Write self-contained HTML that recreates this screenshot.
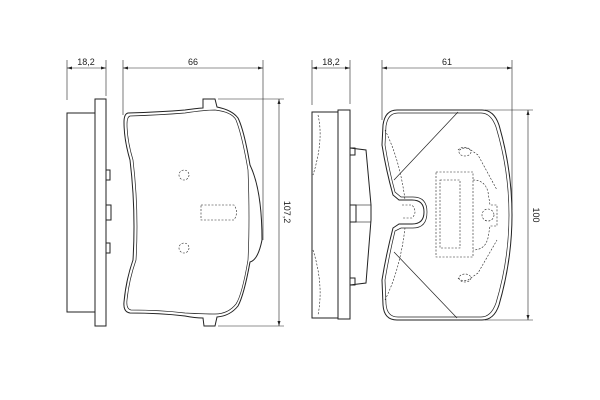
<!DOCTYPE html>
<html><head><style>body{margin:0;background:#fff}svg{display:block}</style></head><body>
<svg width="600" height="400" viewBox="0 0 600 400" xmlns="http://www.w3.org/2000/svg" font-family="Liberation Sans, sans-serif" font-size="9" fill="none" stroke="#222" stroke-width="1">
<defs><marker id="a" viewBox="0 0 10 6" refX="10" refY="3" markerWidth="9" markerHeight="5" orient="auto-start-reverse"><path d="M0,0L10,3L0,6z" fill="#222" stroke="none"/></marker></defs>
<!-- left side view -->
<rect x="67" y="113" width="28" height="199"/>
<rect x="95" y="99" width="11" height="227"/>
<rect x="106" y="170" width="4" height="10"/><rect x="106" y="205" width="5" height="15"/><rect x="106" y="243" width="4" height="10"/>
<line x1="67" y1="60" x2="67" y2="100" stroke-width="0.6"/><line x1="106" y1="60" x2="106" y2="96" stroke-width="0.6"/>
<line x1="67" y1="68" x2="106" y2="68" stroke-width="0.6" marker-start="url(#a)" marker-end="url(#a)"/>
<text x="86" y="65" text-anchor="middle" fill="#222" stroke="none">18,2</text>
<!-- left pad -->
<path d="M128,113 Q160,112 185,110 Q200,108 203,108 L203,99 L215,99 L217,107 Q232,110 238,118 Q244,130 250,165 Q262,190 262,240 Q258,260 250,262 Q244,295 238,306 Q230,316 217,317 L215,326 L204,326 L203,318 Q195,318 185,316 Q160,313 130,313 Q123,312 124,302 Q126,280 133,260 Q136,210 130,160 Q124,140 124,122 Q124,114 128,113 Z"/>
<path d="M130,116 Q160,115 185,113 Q205,110 215,110 Q232,112 236,120 Q242,135 248,170 Q250,220 248,260 Q242,295 236,304 Q228,314 215,314 Q205,314 185,313 Q160,310 131,310 Q126,309 127,300 Q129,280 136,260 Q139,210 133,160 Q127,140 127,124 Q127,117 130,116 Z" stroke-width="0.7"/>
<circle cx="184" cy="175" r="5" stroke-dasharray="2,1.5" stroke-width="0.6"/>
<circle cx="184" cy="248" r="5" stroke-dasharray="2,1.5" stroke-width="0.6"/>
<path d="M201,205 L234,205 Q239,212 234,220 L201,220 Z" stroke-dasharray="2,1.5" stroke-width="0.6"/>
<line x1="123" y1="60" x2="123" y2="115" stroke-width="0.6"/><line x1="263" y1="60" x2="263" y2="240" stroke-width="0.6"/>
<line x1="123" y1="68" x2="263" y2="68" stroke-width="0.6" marker-start="url(#a)" marker-end="url(#a)"/>
<text x="193" y="65" text-anchor="middle" fill="#222" stroke="none">66</text>
<line x1="218" y1="99" x2="284" y2="99" stroke-width="0.6"/><line x1="218" y1="326" x2="284" y2="326" stroke-width="0.6"/>
<line x1="279" y1="99" x2="279" y2="326" stroke-width="0.6" marker-start="url(#a)" marker-end="url(#a)"/>
<text transform="translate(284,212) rotate(90)" text-anchor="middle" fill="#222" stroke="none">107,2</text>
<!-- right side view -->
<rect x="312" y="112" width="26" height="206"/>
<rect x="338" y="110" width="12" height="209"/>
<path d="M350,148 L366,150 L371,205 L371,220 L366,283 L350,285" />
<rect x="350" y="148" width="5" height="7"/><rect x="350" y="205" width="6" height="17"/><rect x="350" y="278" width="5" height="7"/>
<path d="M318,115 Q324,140 313,175 M313,250 Q324,285 318,315" stroke-dasharray="2,1.5" stroke-width="0.6"/>
<line x1="355" y1="205" x2="371" y2="205" stroke-width="0.6"/><line x1="355" y1="222" x2="371" y2="222" stroke-width="0.6"/>
<line x1="312" y1="60" x2="312" y2="105" stroke-width="0.6"/><line x1="350" y1="60" x2="350" y2="104" stroke-width="0.6"/>
<line x1="312" y1="68" x2="350" y2="68" stroke-width="0.6" marker-start="url(#a)" marker-end="url(#a)"/>
<text x="331" y="65" text-anchor="middle" fill="#222" stroke="none">18,2</text>
<!-- right pad -->
<path d="M397,110 L482,110 Q494,110 499,125 Q512,170 512,215 Q512,260 499,305 Q494,320 482,320 L397,320 Q384,320 383,305 L382,280 Q386,255 393,228 L399,224 L412,224 Q424,224 424,212 Q424,200 412,200 L399,200 L393,195 Q386,170 382,145 L383,125 Q385,110 397,110 Z"/>
<path d="M398,113 L481,113 Q491,113 496,127 Q509,170 509,215 Q509,260 496,303 Q491,317 481,317 L398,317 Q387,317 386,304 L385,280 Q389,256 395,231 L401,228 L413,228 Q427,228 427,212 Q427,197 413,197 L401,197 L395,192 Q389,170 385,145 L386,126 Q388,113 398,113 Z" stroke-width="0.7"/>
<line x1="458" y1="112" x2="394" y2="180" stroke-width="0.7"/><line x1="394" y1="252" x2="457" y2="318" stroke-width="0.7"/>
<g stroke-dasharray="2,1.5" stroke-width="0.6">
<path d="M385,130 Q400,160 405,200 M385,300 Q400,270 405,228"/>
<path d="M402,205 L412,205 Q418,212 412,218 L402,218"/>
<rect x="436" y="172" width="37" height="85"/><rect x="440" y="180" width="20" height="68"/>
<path d="M473,180 Q485,180 488,192 L490,205 L497,205 L497,226 L490,226 L488,238 Q485,250 473,250"/>
<circle cx="488" cy="215" r="6"/>
<path d="M458,150 Q462,146 468,148 L478,155 L497,190 M458,278 Q462,282 468,280 L478,273 L497,240"/>
<ellipse cx="465" cy="152" rx="6" ry="4"/><ellipse cx="465" cy="278" rx="6" ry="4"/>
</g>
<line x1="382" y1="60" x2="382" y2="120" stroke-width="0.6"/><line x1="512" y1="60" x2="512" y2="210" stroke-width="0.6"/>
<line x1="382" y1="68" x2="512" y2="68" stroke-width="0.6" marker-start="url(#a)" marker-end="url(#a)"/>
<text x="447" y="65" text-anchor="middle" fill="#222" stroke="none">61</text>
<line x1="485" y1="110" x2="533" y2="110" stroke-width="0.6"/><line x1="485" y1="320" x2="533" y2="320" stroke-width="0.6"/>
<line x1="528" y1="110" x2="528" y2="320" stroke-width="0.6" marker-start="url(#a)" marker-end="url(#a)"/>
<text transform="translate(533,215) rotate(90)" text-anchor="middle" fill="#222" stroke="none">100</text>
</svg>
</body></html>
